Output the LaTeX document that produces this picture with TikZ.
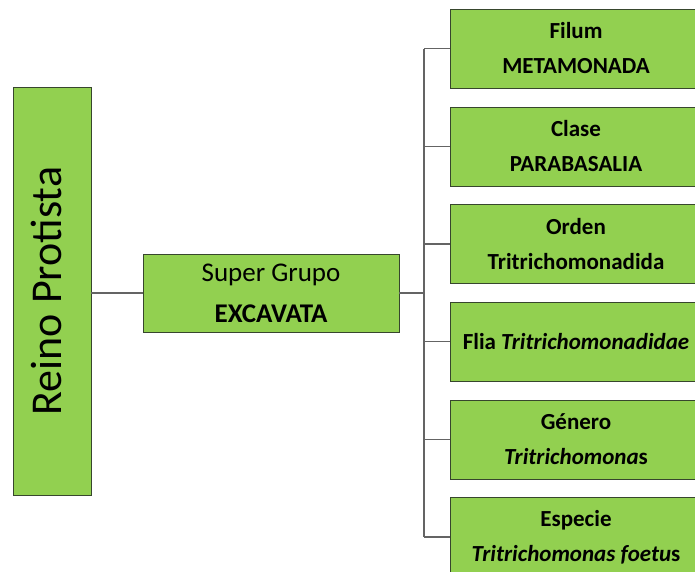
\documentclass[tikz,border=0pt]{standalone}
\usepackage{fontspec}
\setmainfont{Carlito}
\definecolor{hojaverde}{RGB}{146,208,80}
\definecolor{borde}{RGB}{55,70,45}
\definecolor{linea}{RGB}{100,100,100}
\tikzset{
  caja/.style={draw=borde, fill=hojaverde, line width=0.9pt, align=center},
  rango/.style={caja, minimum width=252pt, minimum height=79pt,
    font=\fontsize{23}{35}\selectfont\bfseries},
  rama/.style={draw=linea, line width=1.1pt}
}
\begin{document}
\begin{tikzpicture}[x=1pt, y=-1pt]
    \useasboundingbox (0, 0) rectangle (695, 571);
    \clip (0, 0) rectangle (695, 571);

    \node[caja, rotate=90, minimum width=408pt, minimum height=78pt, text depth=12pt,
      font=\fontsize{44}{44}\selectfont] (reino) at (52, 291) {Reino Protista};
    \node[caja, minimum width=256pt, minimum height=78pt,
      font=\fontsize{27}{41}\selectfont] (super) at (271, 293)
      {Super Grupo\\\textbf{EXCAVATA}};

    \node[rango] (filum) at (576, 48.5) {Filum\\METAMONADA};
    \node[rango] (clase) at (576, 146.5) {Clase\\PARABASALIA};
    \node[rango] (orden) at (576, 244) {Orden\\Tritrichomonadida};
    \node[rango] (flia) at (576, 341.5) {Flia \textit{Tritrichomonadidae}};
    \node[rango] (genero) at (576, 439.5) {Género\\\textit{Tritrichomona}s};
    \node[rango] (especie) at (576, 537) {Especie\\\textit{Tritrichomonas foetu}s};

    \coordinate (tronco) at (424, 293);

    \draw[rama] (super.west -| reino.south) -- (super.west);
    \draw[rama] (super.east) -- (tronco);
    \draw[rama] (filum.west -| tronco) -- (especie.west -| tronco);
    \foreach \n in {filum, clase, orden, flia, genero, especie}
      \draw[rama] (\n.west) -- (\n.west -| tronco);
  \end{tikzpicture}
\end{document}
